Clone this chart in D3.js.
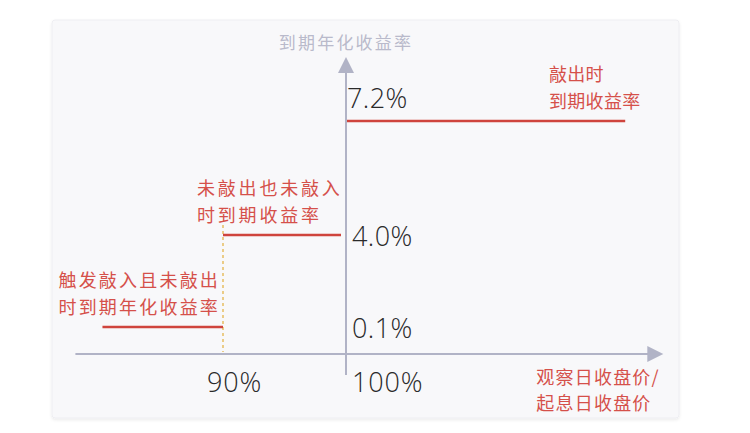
<!DOCTYPE html>
<html>
<head>
<meta charset="utf-8">
<script src="https://cdn.jsdelivr.net/npm/d3@7"></script>
<style>
  html, body { margin: 0; padding: 0; background: #ffffff; }
  svg { display: block; }
</style>
</head>
<body>
<svg id="chart" width="750" height="433"></svg>
<script>
// ---- data ----
const segmentStart = [80.2, 90, 100];      // observation close / start close (%)
const segmentEnd   = [90, 100, 122.7];
const yields       = [0.1, 4.0, 7.2];      // annualised yield at maturity (%)
const segmentLabels = [
  ["触发敲入且未敲出", "时到期年化收益率"],
  ["未敲出也未敲入", "时到期收益率"],
  ["敲出时", "到期收益率"]
];
const yTickLabels = ["0.1%", "4.0%", "7.2%"];
const xTicks = [90, 100];
const xTickLabels = ["90%", "100%"];
const knockInLevel = 90;
const yAxisTitle = "到期年化收益率";
const xAxisTitle = ["观察日收盘价/", "起息日收盘价"];
const xExtent = [78, 125.8];
const yExtent = [0, 9.0];

// ---- scales (schematic, piecewise) ----
const x = d3.scaleLinear().domain([90, 100]).range([223, 346]);
const y = d3.scaleLinear()
  .domain([yExtent[0], yields[0], yields[1], yields[2], yExtent[1]])
  .range([354, 327, 235, 121, 57]);

const svg = d3.select("#chart");
const red = "#cf443d";
const redText = "#d5504a";
const axisGray = "#b1b3c6";
const cjk = "'Noto Sans CJK SC', 'Noto Sans', sans-serif";
const numFont = "'Open Sans', 'Noto Sans', sans-serif";

// panel
const defs = svg.append("defs");
const f = defs.append("filter").attr("id", "sh").attr("x", "-5%").attr("y", "-5%").attr("width", "110%").attr("height", "115%");
f.append("feDropShadow").attr("dx", 0).attr("dy", 1.5).attr("stdDeviation", 1.5).attr("flood-color", "#000").attr("flood-opacity", 0.08);
svg.append("rect")
  .attr("x", 52).attr("y", 20).attr("width", 627).attr("height", 398)
  .attr("rx", 3)
  .attr("fill", "#f8f8fa").attr("stroke", "#eeeef2").attr("stroke-width", 1)
  .attr("filter", "url(#sh)");

// x axis
const x0 = x(100);
svg.append("line")
  .attr("x1", x(xExtent[0])).attr("x2", x(xExtent[1]) - 14)
  .attr("y1", y(0)).attr("y2", y(0))
  .attr("stroke", axisGray).attr("stroke-width", 2);
svg.append("path")
  .attr("d", `M${x(xExtent[1])},${y(0)} L${x(xExtent[1]) - 16},${y(0) - 8} L${x(xExtent[1]) - 16},${y(0) + 8} Z`)
  .attr("fill", axisGray);

// y axis
svg.append("line")
  .attr("x1", x0).attr("x2", x0)
  .attr("y1", y(0) + 21).attr("y2", y(yExtent[1]) + 14)
  .attr("stroke", axisGray).attr("stroke-width", 2);
svg.append("path")
  .attr("d", `M${x0},${y(yExtent[1])} L${x0 - 8},${y(yExtent[1]) + 16} L${x0 + 8},${y(yExtent[1]) + 16} Z`)
  .attr("fill", axisGray);

// y axis title
svg.append("text")
  .attr("x", x0).attr("y", y(yExtent[1]) - 16)
  .attr("text-anchor", "middle").attr("dominant-baseline", "central")
  .attr("font-family", cjk).attr("font-size", 17).attr("letter-spacing", 2.2)
  .attr("fill", "#b9bacb")
  .text(yAxisTitle);

// knock-in dashed line
svg.append("line")
  .attr("x1", x(knockInLevel)).attr("x2", x(knockInLevel))
  .attr("y1", y(yields[1]) - 10).attr("y2", y(0) - 2)
  .attr("stroke", "#e6bd62").attr("stroke-width", 1.5)
  .attr("stroke-dasharray", "3,3");

// payoff segments
const gapRight = [0, 5, 0];
const gapLeft = [0, 0, 1];
const segs = yields.map((v, i) => ({ v, a: segmentStart[i], b: segmentEnd[i], i }));
svg.selectAll("line.seg").data(segs).join("line")
  .attr("class", "seg")
  .attr("x1", d => x(d.a) + gapLeft[d.i])
  .attr("x2", d => x(d.b) - gapRight[d.i])
  .attr("y1", d => y(d.v)).attr("y2", d => y(d.v))
  .attr("stroke", red).attr("stroke-width", 2.5);

// segment labels
const labelX = [d => x(d.a) - 44, d => x(d.a) - 26, d => x(d.a) + 203];
const labelSpacing = [2.2, 2.8, 0.3];
const lg = svg.selectAll("g.lab").data(segs).join("g").attr("class", "lab");
lg.each(function (d) {
  const g = d3.select(this);
  segmentLabels[d.i].forEach((t, k) => {
    g.append("text")
      .attr("x", labelX[d.i](d))
      .attr("y", y(d.v) - (k === 0 ? 48 : 21))
      .attr("dominant-baseline", "central")
      .attr("font-family", cjk).attr("font-size", 18)
      .attr("letter-spacing", labelSpacing[d.i])
      .attr("fill", redText)
      .text(t);
  });
});

// y tick labels
const yLabDy = [0, 0, -24];
const yLabDx = [6, 6, 1];
svg.selectAll("text.ytick").data(yields).join("text")
  .attr("class", "ytick")
  .attr("x", (d, i) => x0 + yLabDx[i])
  .attr("y", (d, i) => y(d) + yLabDy[i])
  .attr("dominant-baseline", "central")
  .attr("font-family", numFont).attr("font-size", 27).attr("font-weight", 300)
  .attr("letter-spacing", 0.4)
  .attr("fill", "#2a2a2a")
  .text((d, i) => yTickLabels[i]);

// x tick labels
const xLabDx = [-16, 6];
svg.selectAll("text.xtick").data(xTicks).join("text")
  .attr("class", "xtick")
  .attr("x", (d, i) => x(d) + xLabDx[i])
  .attr("y", y(0) + 27)
  .attr("dominant-baseline", "central")
  .attr("font-family", numFont).attr("font-size", 27).attr("font-weight", 300)
  .attr("letter-spacing", 0.8)
  .attr("fill", "#2a2a2a")
  .text((d, i) => xTickLabels[i]);

// x axis title
xAxisTitle.forEach((t, k) => {
  svg.append("text")
    .attr("x", x(xExtent[1]) - 127).attr("y", y(0) + 22 + k * 26)
    .attr("dominant-baseline", "central")
    .attr("font-family", cjk).attr("font-size", 18).attr("letter-spacing", 1.2)
    .attr("fill", redText)
    .text(t);
});
</script>
</body>
</html>
